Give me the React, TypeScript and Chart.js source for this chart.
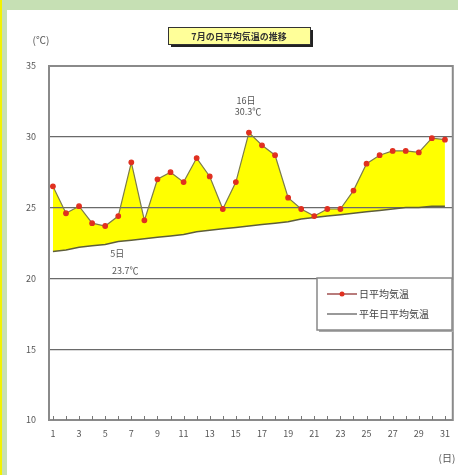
import React, { useEffect, useRef } from "react";
import { Chart, registerables } from "chart.js";
Chart.register(...registerables);

const days: number[] = Array.from({ length: 31 }, (_, i) => i + 1);
const dailyAvg: number[] = [
  26.5, 24.6, 25.1, 23.9, 23.7, 24.4, 28.2, 24.1, 27.0, 27.5,
  26.8, 28.5, 27.2, 24.9, 26.8, 30.3, 29.4, 28.7, 25.7, 24.9,
  24.4, 24.9, 24.9, 26.2, 28.1, 28.7, 29.0, 29.0, 28.9, 29.9, 29.8,
];
const normalAvg: number[] = [
  21.9, 22.0, 22.2, 22.3, 22.4, 22.6, 22.7, 22.8, 22.9, 23.0,
  23.1, 23.3, 23.4, 23.5, 23.6, 23.7, 23.8, 23.9, 24.0, 24.2,
  24.3, 24.4, 24.5, 24.6, 24.7, 24.8, 24.9, 25.0, 25.0, 25.1, 25.1,
];
const yTicks: number[] = [10, 15, 20, 25, 30, 35];
const titleText = "7月の日平均気温の推移";
const seriesNames: string[] = ["日平均気温", "平年日平均気温"];
const maxNote: string[] = ["16日", "30.3℃"];
const minNote: string[] = ["5日", "23.7℃"];
const maxDay = 16;
const minDay = 5;

const FONT = "'Noto Sans CJK JP', sans-serif";

const decor = {
  id: "decor",
  afterDraw(chart: any) {
    const { ctx, chartArea } = chart;
    const xs = chart.scales.x;
    ctx.save();
    ctx.strokeStyle = "#8a8a8a";
    ctx.lineWidth = 2;
    ctx.strokeRect(chartArea.left, chartArea.top, chartArea.right - chartArea.left, chartArea.bottom - chartArea.top);
    ctx.strokeStyle = "#777";
    ctx.lineWidth = 1;
    for (const d of days) {
      const px = Math.round(xs.getPixelForValue(d)) + 0.5;
      ctx.beginPath();
      ctx.moveTo(px, chartArea.bottom);
      ctx.lineTo(px, chartArea.bottom - 4);
      ctx.stroke();
    }
    ctx.font = "bold 9px " + FONT;
    const tw = ctx.measureText(titleText).width;
    const bx = 161, by = 17, bw = Math.max(142, tw + 8), bh = 17;
    ctx.fillStyle = "#222";
    ctx.fillRect(bx + 3, by + 3, bw, bh);
    ctx.fillStyle = "#ffff99";
    ctx.fillRect(bx, by, bw, bh);
    ctx.strokeStyle = "#333";
    ctx.lineWidth = 1;
    ctx.strokeRect(bx + 0.5, by + 0.5, bw, bh);
    ctx.fillStyle = "#333";
    ctx.textAlign = "center";
    ctx.textBaseline = "middle";
    ctx.fillText(titleText, bx + bw / 2, by + bh / 2 + 1);
    ctx.font = "10px " + FONT;
    ctx.fillStyle = "#555";
    ctx.fillText("(℃)", 34, 30);
    ctx.fillText("(日)", 440, 448);
    const lx = 310, ly = 268, lw = 135, lh = 52;
    ctx.fillStyle = "#aaa";
    ctx.fillRect(lx + 2, ly + 2, lw, lh);
    ctx.fillStyle = "#fff";
    ctx.fillRect(lx, ly, lw, lh);
    ctx.strokeStyle = "#888";
    ctx.lineWidth = 1.5;
    ctx.strokeRect(lx, ly, lw, lh);
    const ds = chart.data.datasets;
    const rows = [ly + 16, ly + 36];
    ds.forEach((d: any, i: number) => {
      const yy = rows[i];
      ctx.strokeStyle = i === 0 ? "#a05050" : "#777";
      ctx.lineWidth = 1.5;
      ctx.beginPath();
      ctx.moveTo(lx + 10, yy);
      ctx.lineTo(lx + 40, yy);
      ctx.stroke();
      if (i === 0) {
        ctx.fillStyle = d.pointBackgroundColor;
        ctx.beginPath();
        ctx.arc(lx + 25, yy, 2.5, 0, Math.PI * 2);
        ctx.fill();
      }
      ctx.fillStyle = "#444";
      ctx.font = "10px " + FONT;
      ctx.textAlign = "left";
      ctx.fillText(seriesNames[i], lx + 42, yy);
    });
    const meta = chart.getDatasetMeta(0);
    const pMax = meta.data[maxDay - 1];
    const pMin = meta.data[minDay - 1];
    ctx.font = "9px " + FONT;
    ctx.fillStyle = "#555";
    ctx.textAlign = "center";
    ctx.fillText(maxNote[0], pMax.x - 3, pMax.y - 32);
    ctx.fillText(maxNote[1], pMax.x - 1, pMax.y - 21);
    ctx.fillText(minNote[0], pMin.x + 12, pMin.y + 28);
    ctx.fillText(minNote[1], pMin.x + 20, pMin.y + 45);
    ctx.restore();
  },
};

export default function App() {
  const ref = useRef<HTMLCanvasElement>(null);
  useEffect(() => {
    if (!ref.current) return;
    const chart = new Chart(ref.current, {
      type: "line",
      data: {
        labels: days,
        datasets: [
          {
            label: seriesNames[0],
            data: days.map((d, i) => ({ x: d, y: dailyAvg[i] })),
            borderColor: "#7c7c4a",
            borderWidth: 1.2,
            pointBackgroundColor: "#e03020",
            pointBorderColor: "#e03020",
            pointRadius: 2.3,
            pointHoverRadius: 2.3,
            backgroundColor: "#ffff00",
            fill: "+1",
            tension: 0,
          },
          {
            label: seriesNames[1],
            data: days.map((d, i) => ({ x: d, y: normalAvg[i] })),
            borderColor: "#5e5e3a",
            borderWidth: 1.5,
            pointRadius: 0,
            fill: false,
            tension: 0,
          },
        ],
      },
      options: {
        animation: false,
        responsive: false,
        events: [],
        layout: { padding: { left: 0, top: 56, right: 1, bottom: 25 } },
        plugins: {
          legend: { display: false },
          tooltip: { enabled: false },
          filler: { drawTime: "beforeDraw" },
        },
        scales: {
          x: {
            type: "linear",
            min: 0.7,
            max: 31.6,
            afterFit: (s: any) => { s.height = 30; },
            afterBuildTicks: (s: any) => { s.ticks = days.map((d) => ({ value: d })); },
            ticks: {
              autoSkip: false,
              maxRotation: 0,
              padding: 8,
              color: "#555",
              font: { size: 9, family: FONT },
              callback: (v: any) => (Number(v) % 2 === 1 ? String(v) : ""),
            },
            grid: { display: false, drawTicks: false },
            border: { display: false },
          },
          y: {
            min: 10,
            max: 35,
            afterFit: (s: any) => { s.width = 42; },
            afterBuildTicks: (s: any) => { s.ticks = yTicks.map((v) => ({ value: v })); },
            ticks: {
              padding: 13,
              color: "#555",
              font: { size: 9, family: FONT },
            },
            grid: { color: "#6a6a6a", lineWidth: 1.2, drawTicks: false },
            border: { display: false },
          },
        },
      },
      plugins: [decor],
    });
    return () => chart.destroy();
  }, []);
  return (
    <div style={{ position: "absolute", left: 0, top: 0, width: 458, height: 475, background: "#c6e0b4", overflow: "hidden" }}>
      <div style={{ position: "absolute", left: 0, top: 0, width: 2, height: 475, background: "#f2f200" }} />
      <div style={{ position: "absolute", left: 7, top: 10, width: 451, height: 465, background: "#ffffff" }}>
        <canvas ref={ref} width={451} height={465} style={{ display: "block", width: 451, height: 465 }} />
      </div>
    </div>
  );
}
